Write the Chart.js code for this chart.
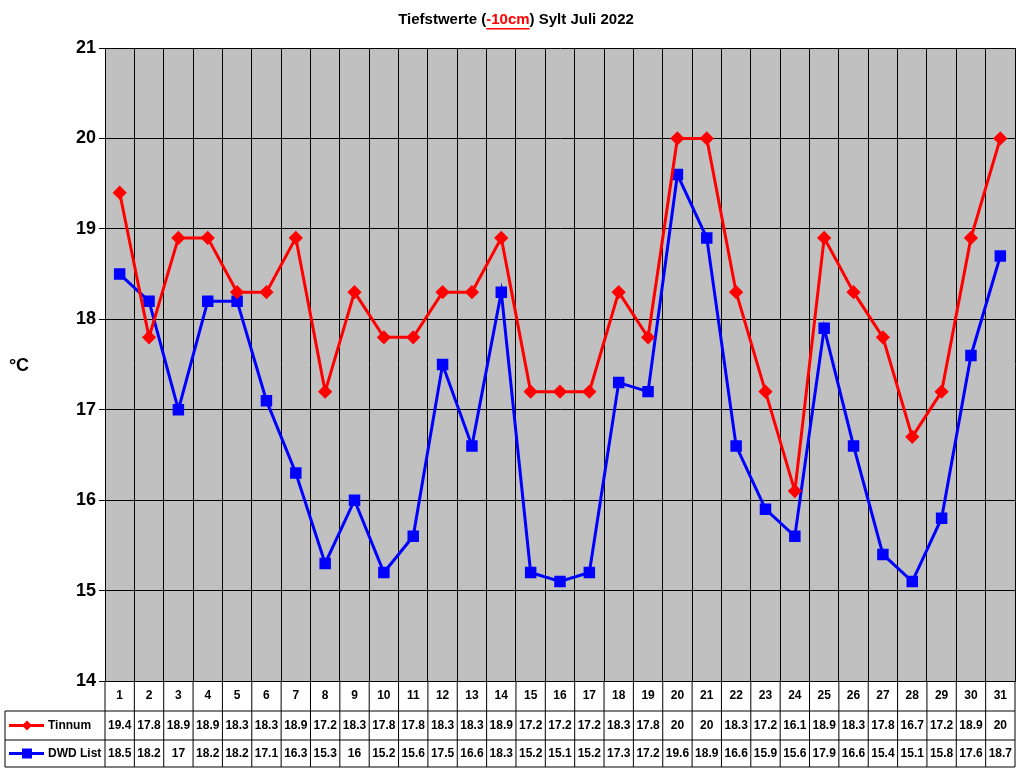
<!DOCTYPE html><html><head><meta charset="utf-8">
<script src="https://cdn.jsdelivr.net/npm/chart.js@4"></script>
<style>body{margin:0;background:#fff}#w{width:1024px;height:768px}</style></head><body>
<div id="w"><canvas id="c"></canvas></div>
<script>
const days=Array.from({length:31},(_,i)=>String(i+1));
const tinnum=[19.4,17.8,18.9,18.9,18.3,18.3,18.9,17.2,18.3,17.8,17.8,18.3,18.3,18.9,17.2,17.2,17.2,18.3,17.8,20,20,18.3,17.2,16.1,18.9,18.3,17.8,16.7,17.2,18.9,20];
const dwd=[18.5,18.2,17,18.2,18.2,17.1,16.3,15.3,16,15.2,15.6,17.5,16.6,18.3,15.2,15.1,15.2,17.3,17.2,19.6,18.9,16.6,15.9,15.6,17.9,16.6,15.4,15.1,15.8,17.6,18.7];
const labels=['Tinnum','DWD List'];
const colors=['#ff0000','#0000ff'];
const plug={id:'p',
beforeDraw(ch){const {ctx,chartArea:a}=ch;ctx.save();ctx.fillStyle='#c0c0c0';ctx.fillRect(a.left,a.top,a.right-a.left,a.bottom-a.top);ctx.restore();},
afterDraw(ch){const {ctx,chartArea:a,scales:{x}}=ch;ctx.save();
ctx.font='bold 15px Arial, Liberation Sans';ctx.textBaseline='middle';ctx.fillStyle='#000';
const t1='Tiefstwerte (',t2='-10cm',t3=') Sylt Juli 2022';
const w=ctx.measureText(t1+t2+t3).width;let sx=516-w/2;
ctx.textAlign='left';ctx.fillText(t1,sx,20);sx+=ctx.measureText(t1).width;
ctx.fillStyle='#f00';ctx.fillText(t2,sx,20);const w2=ctx.measureText(t2).width;
ctx.fillRect(sx,28,w2,1.5);sx+=w2;ctx.fillStyle='#000';ctx.fillText(t3,sx,20);
ctx.font='bold 18px Arial, Liberation Sans';ctx.textAlign='center';ctx.fillText('°C',19,366);
const rows=[a.bottom,711,740,767];
ctx.strokeStyle='#000';ctx.lineWidth=1;
const L=5;
ctx.beginPath();
ctx.moveTo(a.left,rows[1]);ctx.lineTo(a.left,rows[0]);
[1,2,3].forEach(i=>{ctx.moveTo(L,rows[i]);ctx.lineTo(a.right,rows[i]);});
ctx.moveTo(L,rows[1]);ctx.lineTo(L,rows[3]);ctx.moveTo(a.left,rows[1]);ctx.lineTo(a.left,rows[3]);
const cw=(a.right-a.left)/31;
for(let i=1;i<=31;i++){const xx=a.left+i*cw;ctx.moveTo(xx,rows[0]);ctx.lineTo(xx,rows[3]);}
ctx.stroke();
ctx.font='bold 12px Arial, Liberation Sans';ctx.textAlign='center';
const series=[tinnum,dwd];
for(let i=0;i<31;i++){const cx=x.getPixelForValue(i);
ctx.fillText(days[i],cx,(rows[0]+rows[1])/2);
series.forEach((s,k)=>ctx.fillText(String(s[i]),cx,(rows[k+1]+rows[k+2])/2));}
series.forEach((s,k)=>{const cy=(rows[k+1]+rows[k+2])/2;ctx.strokeStyle=colors[k];ctx.fillStyle=colors[k];ctx.lineWidth=3;
ctx.beginPath();ctx.moveTo(9,cy);ctx.lineTo(44,cy);ctx.stroke();
if(k===0){ctx.beginPath();ctx.moveTo(27,cy-5);ctx.lineTo(32,cy);ctx.lineTo(27,cy+5);ctx.lineTo(22,cy);ctx.fill();}
else ctx.fillRect(22,cy-5,10,10);
ctx.fillStyle='#000';ctx.textAlign='left';ctx.fillText(labels[k],48,cy);});
ctx.restore();}};
new Chart(document.getElementById('c'),{type:'line',
data:{labels:days,datasets:[
{label:labels[0],data:tinnum,borderColor:colors[0],backgroundColor:colors[0],borderWidth:3,pointStyle:'rectRot',pointRadius:5,pointHoverRadius:5,tension:0},
{label:labels[1],data:dwd,borderColor:colors[1],backgroundColor:colors[1],borderWidth:3,pointStyle:'rect',pointRadius:6,pointHoverRadius:6,tension:0}]},
options:{responsive:true,maintainAspectRatio:false,animation:false,
layout:{padding:{left:0,top:48,right:4,bottom:87}},
plugins:{legend:{display:false},title:{display:false},tooltip:{enabled:false}},
scales:{x:{offset:true,grid:{offset:true,color:'#000',drawTicks:false},border:{color:'#000'},ticks:{display:false},afterFit(s){s.height=0;}},
y:{min:14,max:21,grid:{color:'#000',tickLength:6},border:{color:'#000'},ticks:{stepSize:1,color:'#000',font:{size:18,weight:'bold',family:'Arial, Liberation Sans'}},afterFit(s){s.width=105;}}}},
plugins:[plug]});
</script></body></html>
